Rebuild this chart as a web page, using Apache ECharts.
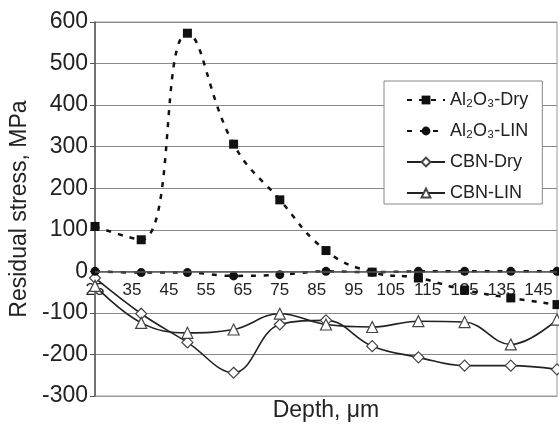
<!DOCTYPE html>
<html>
<head>
<meta charset="utf-8">
<script src="https://cdn.jsdelivr.net/npm/echarts@6/dist/echarts.min.js"></script>
<style>
  html, body { margin: 0; padding: 0; background: #fff; }
  #container { width: 559px; height: 426px; }
</style>
</head>
<body>
<div id="container"></div>
<script>
var depth = [25, 37.5, 50, 62.5, 75, 87.5, 100, 112.5, 125, 137.5, 150];
var al2o3Dry = [108, 76, 573, 306, 172, 50, -2, -16, -45, -64, -80];
var al2o3Lin = [0, -3, -3, -11, -8, 0, -2, 0, 0, 0, 0];
var cbnDry = [-16, -102, -171, -244, -128, -118, -180, -207, -227, -227, -236];
var cbnLin = [-35, -124, -148, -140, -102, -128, -134, -120, -122, -176, -116];
var seriesNames = ['Al₂O₃-Dry', 'Al₂O₃-LIN', 'CBN-Dry', 'CBN-LIN'];

function pairs(ys) {
    return depth.map(function (d, i) { return [d, ys[i]]; });
}

var dom = document.getElementById('container');
var myChart = echarts.init(dom, null, { renderer: 'canvas' });

var font = 'Liberation Sans, Arial, sans-serif';

option = {
    animation: false,
    backgroundColor: '#fff',
    grid: {
        left: 95,
        right: 2,
        top: 22,
        bottom: 30,
        show: true,
        borderColor: '#999',
        borderWidth: 1
    },
    legend: {
        data: seriesNames,
        orient: 'vertical',
        left: 384,
        top: 81,
        width: 159,
        backgroundColor: '#fff',
        borderColor: '#888',
        borderWidth: 1,
        padding: [10, 14, 2, 22],
        itemGap: 13,
        itemWidth: 38,
        itemHeight: 11,
        textStyle: { fontFamily: font, fontSize: 18, color: '#222' }
    },
    graphic: [{
        type: 'text',
        x: 326,
        y: 411,
        style: {
            text: 'Depth, μm',
            font: '23px Liberation Sans, Arial, sans-serif',
            fill: '#222',
            textAlign: 'center',
            textVerticalAlign: 'middle'
        }
    }],
    xAxis: {
        type: 'value',
        min: 25,
        max: 150,
        interval: 10,
        axisLine: { onZero: false, lineStyle: { color: '#999', width: 1 } },
        axisTick: { show: false },
        splitLine: { show: false },
        axisLabel: {
            showMaxLabel: false,
            margin: -114,
            fontFamily: font,
            fontSize: 17,
            color: '#222'
        }
    },
    yAxis: {
        type: 'value',
        min: -300,
        max: 600,
        interval: 100,
        name: 'Residual stress, MPa',
        nameLocation: 'middle',
        nameGap: 60,
        nameTextStyle: { fontFamily: font, fontSize: 23, color: '#222' },
        axisLine: { show: true, lineStyle: { color: '#555', width: 1.5 } },
        axisTick: { show: true, length: 5, lineStyle: { color: '#555' } },
        splitLine: { lineStyle: { color: '#888', width: 1 } },
        axisLabel: { margin: 7, fontFamily: font, fontSize: 23, color: '#222' }
    },
    series: [
        {
            name: seriesNames[0],
            type: 'line',
            smooth: 0.45,
            data: pairs(al2o3Dry),
            symbol: 'rect',
            symbolSize: 9,
            itemStyle: { color: '#111' },
            lineStyle: { color: '#111', width: 2.5, type: [5, 7] },
            markLine: {
                silent: true,
                symbol: 'none',
                label: { show: false },
                lineStyle: { color: '#555', width: 1.5, type: 'solid' },
                data: [{ yAxis: 0 }]
            },
            z: 4
        },
        {
            name: seriesNames[1],
            type: 'line',
            smooth: 0.4,
            data: pairs(al2o3Lin),
            symbol: 'circle',
            symbolSize: 9,
            itemStyle: { color: '#111' },
            lineStyle: { color: '#111', width: 2.5, type: [5, 8] },
            z: 4
        },
        {
            name: seriesNames[2],
            type: 'line',
            smooth: 0.4,
            data: pairs(cbnDry),
            symbol: 'diamond',
            symbolSize: 11,
            itemStyle: { color: '#fff', borderColor: '#444', borderWidth: 1.2 },
            lineStyle: { color: '#222', width: 1.6 },
            z: 3
        },
        {
            name: seriesNames[3],
            type: 'line',
            smooth: 0.4,
            data: pairs(cbnLin),
            symbol: 'triangle',
            symbolSize: 11,
            itemStyle: { color: '#fff', borderColor: '#444', borderWidth: 1.2 },
            lineStyle: { color: '#222', width: 1.6 },
            z: 3
        }
    ]
};

if (option && typeof option === 'object') {
    myChart.setOption(option, true);
}
</script>
</body>
</html>
